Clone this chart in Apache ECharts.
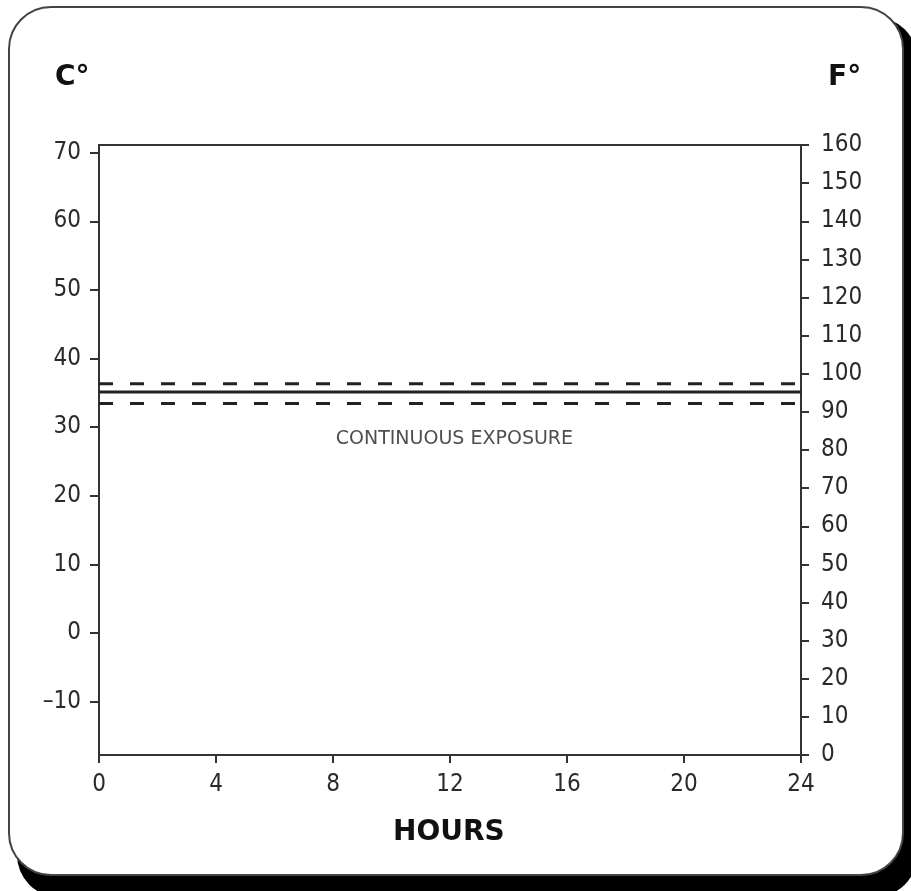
<!DOCTYPE html>
<html>
<head>
<meta charset="utf-8">
<script src="https://cdn.jsdelivr.net/npm/echarts@6/dist/echarts.min.js"></script>
<style>
html,body{margin:0;padding:0;background:#fff;}
#chart{width:911px;height:891px;}
</style>
</head>
<body>
<div id="chart"></div>
<script>
// ---- data ----
const hoursRange = [0, 24];
const hourTicks = [0, 4, 8, 12, 16, 20, 24];
const fahrenheitRange = [0, 160];
const celsiusTicks = [-10, 0, 10, 20, 30, 40, 50, 60, 70];
const upperLimitF = [97.4, 97.4];     // dashed upper line (°F) at 0h and 24h
const continuousF = [95.2, 95.2];     // solid line (°F)
const lowerLimitF = [92.2, 92.2];     // dashed lower line (°F)
const exposureLabel = 'CONTINUOUS EXPOSURE';
const exposureLabelPos = [12.15, 82.9]; // hours, °F
const leftTitle = 'C°';
const rightTitle = 'F°';
const xTitle = 'HOURS';

const f2c = f => (f - 32) * 5 / 9;
const pairs = (vals) => hoursRange.map((h, i) => [h, vals[i]]);

const tickFont = "'DejaVu Sans Condensed', 'DejaVu Sans', sans-serif";
const txt = '#2a2a2a';
const axisCol = '#333';

const chart = echarts.init(document.getElementById('chart'), null, {renderer: 'canvas'});
chart.setOption({
  backgroundColor: '#fff',
  animation: false,
  graphic: [
    {type: 'rect', z: -10, shape: {x: 17, y: 17, width: 900, height: 880, r: 42}, style: {fill: '#000'}},
    {type: 'rect', z: -9, shape: {x: 9, y: 7, width: 894, height: 868, r: 42}, style: {fill: '#fff', stroke: '#444', lineWidth: 2}},
    {type: 'text', left: 55, top: 64, style: {text: leftTitle, font: "bold 28px 'DejaVu Sans', sans-serif", fill: '#111'}},
    {type: 'text', left: 828, top: 64, style: {text: rightTitle, font: "bold 28px 'DejaVu Sans', sans-serif", fill: '#111'}},
    {type: 'text', left: 393, top: 819, style: {text: xTitle, font: "bold 28px 'DejaVu Sans', sans-serif", fill: '#111'}}
  ],
  grid: {left: 99, right: 110, top: 145, bottom: 136, show: true, borderColor: axisCol, borderWidth: 2, backgroundColor: 'transparent'},
  xAxis: {
    type: 'value', min: hoursRange[0], max: hoursRange[1], interval: 4,
    axisLine: {show: true, onZero: false, lineStyle: {color: axisCol, width: 2}},
    axisTick: {show: true, inside: false, length: 8, lineStyle: {color: axisCol, width: 2}},
    axisLabel: {color: txt, fontSize: 24, fontFamily: tickFont, margin: 18},
    splitLine: {show: false}
  },
  yAxis: [
    {
      type: 'value', position: 'left', min: f2c(fahrenheitRange[0]), max: f2c(fahrenheitRange[1]),
      axisLine: {show: true, onZero: false, lineStyle: {color: axisCol, width: 2}},
      axisTick: {show: true, length: 9, customValues: celsiusTicks, lineStyle: {color: axisCol, width: 2}},
      axisLabel: {color: txt, fontSize: 24, fontFamily: tickFont, margin: 18, customValues: celsiusTicks,
        formatter: v => String(Math.round(v)).replace('-', '\u2013')},
      splitLine: {show: false}
    },
    {
      type: 'value', position: 'right', min: fahrenheitRange[0], max: fahrenheitRange[1], interval: 10,
      axisLine: {show: true, onZero: false, lineStyle: {color: axisCol, width: 2}},
      axisTick: {show: true, length: 8, lineStyle: {color: axisCol, width: 2}},
      axisLabel: {color: txt, fontSize: 24, fontFamily: tickFont, margin: 20},
      splitLine: {show: false}
    }
  ],
  series: [
    {type: 'line', yAxisIndex: 1, data: pairs(upperLimitF), showSymbol: false, silent: true,
      lineStyle: {color: '#222', width: 3, type: [14, 17]}},
    {type: 'line', yAxisIndex: 1, data: pairs(continuousF), showSymbol: false, silent: true,
      lineStyle: {color: '#222', width: 3, type: 'solid'}},
    {type: 'line', yAxisIndex: 1, data: pairs(lowerLimitF), showSymbol: false, silent: true,
      lineStyle: {color: '#222', width: 3, type: [14, 17]}},
    {type: 'scatter', yAxisIndex: 1, data: [exposureLabelPos], symbolSize: 0, silent: true,
      label: {show: true, position: 'inside', formatter: exposureLabel, color: '#222', fontSize: 19,
        fontFamily: "'DejaVu Sans', sans-serif"}}
  ]
});
</script>
</body>
</html>
